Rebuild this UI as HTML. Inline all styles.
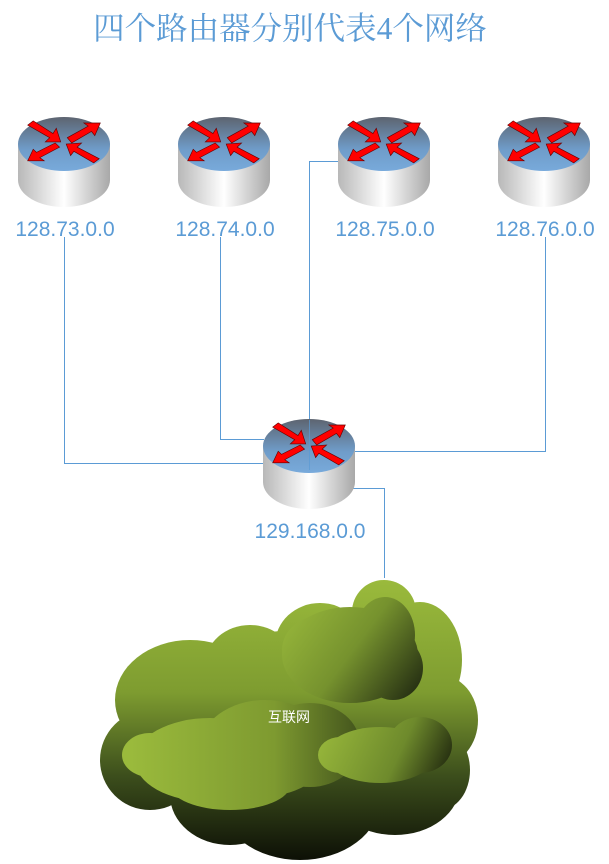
<!DOCTYPE html>
<html><head><meta charset="utf-8"><style>
html,body{margin:0;padding:0;background:#fff;width:609px;height:864px;overflow:hidden}
svg text{font-family:"Liberation Sans","Noto Sans CJK SC",sans-serif}
</style></head><body>
<svg width="609" height="864" viewBox="0 0 609 864">
<defs>
<linearGradient id="top" x1="0" y1="0" x2="0" y2="1"><stop offset="0" stop-color="#5d6470"/><stop offset="0.6" stop-color="#6f9cc9"/><stop offset="1" stop-color="#78aadb"/></linearGradient>
<linearGradient id="body" x1="0" y1="0" x2="1" y2="0"><stop offset="0" stop-color="#b8b8b8"/><stop offset="0.5" stop-color="#ffffff"/><stop offset="1" stop-color="#a8a8a8"/></linearGradient>
<linearGradient id="cl" gradientUnits="userSpaceOnUse" x1="0" y1="580" x2="0" y2="860"><stop offset="0" stop-color="#9aba3c"/><stop offset="0.4" stop-color="#7e9c30"/><stop offset="0.7" stop-color="#3c4e1c"/><stop offset="1" stop-color="#0d1006"/></linearGradient>
<linearGradient id="cl2" gradientUnits="userSpaceOnUse" x1="285" y1="600" x2="420" y2="700"><stop offset="0" stop-color="#9aba3c"/><stop offset="0.5" stop-color="#76922e"/><stop offset="1" stop-color="#1e2610"/></linearGradient>
<linearGradient id="cl3" gradientUnits="userSpaceOnUse" x1="130" y1="0" x2="370" y2="0"><stop offset="0" stop-color="#9aba3c"/><stop offset="0.6" stop-color="#7e9a30"/><stop offset="1" stop-color="#3c4c1a"/></linearGradient>
<linearGradient id="cl4" gradientUnits="userSpaceOnUse" x1="320" y1="720" x2="450" y2="780"><stop offset="0" stop-color="#9aba3c"/><stop offset="0.6" stop-color="#6e8a2c"/><stop offset="1" stop-color="#1a200c"/></linearGradient>
<g id="r">
<path d="M-46,0 L-46,36 A46,27 0 0 0 46,36 L46,0 Z" fill="url(#body)"/>
<ellipse cx="0" cy="0" rx="46" ry="27" fill="url(#top)"/>
<g fill="#f00" stroke="#600" stroke-width="0.6" transform="scale(1.1,1.05)">
<path d="M-33,-18 L-28,-22 L-10,-10 L-7,-15 L-3,-2 L-17,-2 L-13,-6 Z"/>
<path d="M3,-6 L22,-17 L18,-20 L33,-20 L28,-8 L25,-12 L7,-1 Z"/>
<path d="M-4,3 L-22,13 L-18,16 L-33,16 L-28,5 L-25,8 L-8,-1 Z"/>
<path d="M32,14 L27,18 L9,7 L6,11 L2,0 L16,-1 L12,3 Z"/>
</g>
</g>
</defs>
<text x="290" y="39" text-anchor="middle" font-size="31.5" fill="#5b9bd5" style="font-family:'Liberation Serif','Noto Serif CJK SC',serif">四个路由器分别代表4个网络</text>
<g fill="none" stroke="#5b9bd5" stroke-width="1">
<path d="M64.5,237 V463.5 H266"/>
<path d="M220.5,237 V439.5 H264"/>
<path d="M338,161.5 H309.5 V420"/>
<path d="M545.5,237 V451.5 H352"/>
<path d="M352,488.5 H384.5 V578"/>
</g>
<use href="#r" x="64" y="144"/>
<use href="#r" x="224" y="144"/>
<use href="#r" x="384" y="144"/>
<use href="#r" x="544" y="144"/>
<use href="#r" x="309" y="446"/>
<path d="M309.5,420 V470" stroke="#5b9bd5" stroke-width="1" opacity="0.7"/>
<g font-size="21" fill="#5b9bd5" text-anchor="middle">
<text x="65" y="236">128.73.0.0</text>
<text x="225" y="236">128.74.0.0</text>
<text x="385" y="236">128.75.0.0</text>
<text x="545" y="236">128.76.0.0</text>
<text x="310" y="538">129.168.0.0</text>
</g>
<g fill="url(#cl)">
<circle cx="384" cy="612" r="32"/>
<ellipse cx="420" cy="660" rx="42" ry="58"/>
<ellipse cx="440" cy="720" rx="38" ry="45"/>
<ellipse cx="320" cy="645" rx="45" ry="42"/>
<ellipse cx="250" cy="665" rx="45" ry="40"/>
<ellipse cx="190" cy="700" rx="75" ry="60"/>
<ellipse cx="150" cy="760" rx="50" ry="50"/>
<ellipse cx="230" cy="795" rx="60" ry="50"/>
<ellipse cx="300" cy="800" rx="80" ry="60"/>
<ellipse cx="395" cy="785" rx="65" ry="50"/>
<ellipse cx="440" cy="770" rx="30" ry="40"/>
<ellipse cx="300" cy="720" rx="140" ry="90"/>
<ellipse cx="390" cy="700" rx="70" ry="80"/>
</g>
<g fill="url(#cl2)">
<ellipse cx="350" cy="655" rx="68" ry="48"/>
<ellipse cx="385" cy="635" rx="30" ry="38"/>
<ellipse cx="320" cy="650" rx="38" ry="34"/>
<ellipse cx="393" cy="668" rx="30" ry="32"/>
</g>
<g fill="url(#cl3)">
<ellipse cx="210" cy="760" rx="75" ry="42"/>
<ellipse cx="265" cy="748" rx="65" ry="48"/>
<ellipse cx="150" cy="755" rx="28" ry="22"/>
<ellipse cx="310" cy="745" rx="50" ry="42"/>
<ellipse cx="230" cy="785" rx="60" ry="25"/>
</g>
<g fill="url(#cl4)">
<ellipse cx="380" cy="755" rx="55" ry="28"/>
<ellipse cx="420" cy="745" rx="32" ry="28"/>
<ellipse cx="340" cy="755" rx="22" ry="18"/>
</g>
<text x="289" y="722" text-anchor="middle" font-size="14" fill="#fff">互联网</text>
</svg>
</body></html>
